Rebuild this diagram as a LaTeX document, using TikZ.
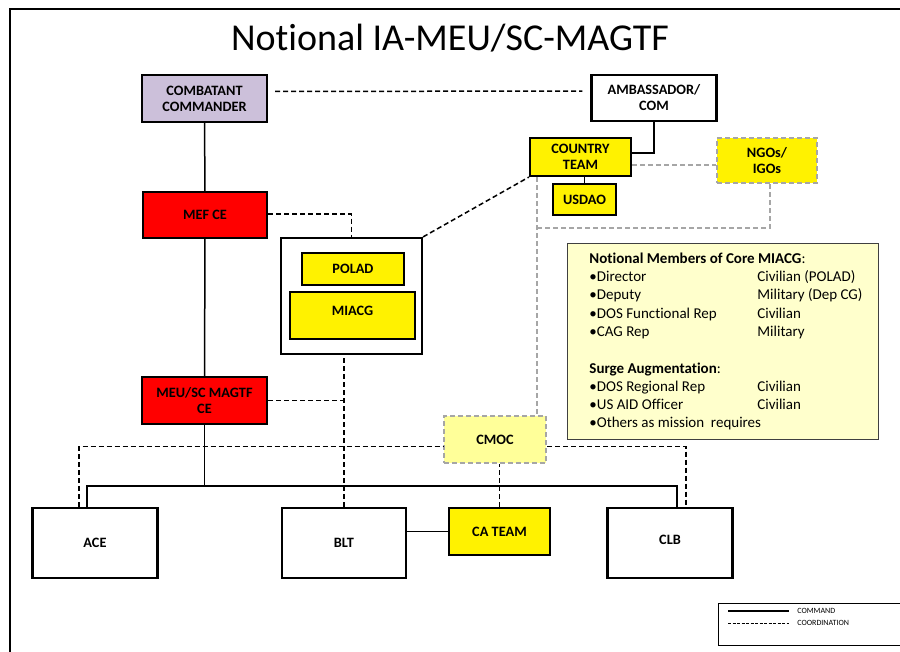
\documentclass[tikz,border=0pt]{standalone}
\usepackage{fontspec}
\setmainfont{Carlito}[Ligatures=NoCommon]
\definecolor{cocomfill}{HTML}{CCC0DA}
\definecolor{cmocfill}{HTML}{FFFF99}
\definecolor{notefill}{HTML}{FFFFCC}
\definecolor{ngoline}{HTML}{A6A6A6}

\begin{document}
\begin{tikzpicture}[x=1pt, y=-1pt, thick,
    unit/.style={draw, line width=2.2pt, inner sep=0pt, align=center, font=\fontsize{14.3}{16}\selectfont\bfseries},
    outside/.style={unit, draw=ngoline, dash pattern=on 5pt off 3pt},
    cmdline/.style={line width=1.5pt},
    coordline/.style={line width=1.5pt, dash pattern=on 5pt off 3pt},
    graycoord/.style={line width=1.5pt, draw=ngoline, dash pattern=on 5pt off 3pt}]
		\useasboundingbox (0,0) rectangle (900,652);
		\draw[line width=2pt] (10,660) -- (10,9) -- (910,9);
		\node[font=\fontsize{38}{40}\selectfont] (title) at (450,38) {Notional IA-MEU/SC-MAGTF};
		
		\node[unit, fill=cocomfill, minimum width=125, minimum height=47] (cocom) at (204.5,98.5) {COMBATANT\\COMMANDER};
		\node[unit, fill=white, minimum width=125, minimum height=46] (amb) at (654,98) {AMBASSADOR/\\COM};
		\node[unit, fill=yellow, minimum width=101, minimum height=38] (ct) at (580.5,157) {COUNTRY\\TEAM};
		\node[unit, fill=yellow, minimum width=63, minimum height=31] (usdao) at (584.5,199.5) {USDAO};
		\node[outside, fill=yellow, minimum width=100, minimum height=45] (ngo) at (767,160.5) {NGOs/\\IGOs};
		\node[unit, fill=red, minimum width=124, minimum height=46] (mef) at (205,215) {MEF CE};
		\node[unit, fill=white, minimum width=141, minimum height=116] (cell) at (351.5,296) {};
		\node[unit, fill=yellow, minimum width=102, minimum height=32] (polad) at (353,269) {POLAD};
		\node[unit, fill=yellow, minimum width=125, minimum height=47, text depth=10pt] (miacg) at (352.5,315.5) {MIACG};
		\node[unit, fill=red, minimum width=125, minimum height=47] (meu) at (204.5,400.5) {MEU/SC MAGTF\\CE};
		\node[outside, fill=cmocfill, minimum width=102, minimum height=47] (cmoc) at (495,439.5) {CMOC};
		\node[unit, fill=yellow, minimum width=101, minimum height=47] (cat) at (499.5,531.5) {CA TEAM};
		\node[unit, fill=white, minimum width=125, minimum height=70] (ace) at (95,543) {ACE};
		\node[unit, fill=white, minimum width=124, minimum height=70] (blt) at (344,543) {BLT};
		\node[unit, fill=white, minimum width=125, minimum height=70, text depth=6pt] (clb) at (670,543) {CLB};
		
		% notional members
		\draw[draw=black!75, fill=notefill, line width=1pt] (567,244) rectangle (878,439);
		\node[anchor=north west, inner sep=0pt, font=\fontsize{15}{18.3}\selectfont] (members) at (589,250) {%
			\begin{tabular}{@{}p{168pt}@{}l@{}}
			\multicolumn{2}{@{}l@{}}{\textbf{Notional Members of Core MIACG}:}\\
			•Director & Civilian (POLAD)\\
			•Deputy & Military (Dep CG)\\
			•DOS Functional Rep & Civilian\\
			•CAG Rep & Military\\
			& \\
			\multicolumn{2}{@{}l@{}}{\textbf{Surge Augmentation}:}\\
			•DOS Regional Rep & Civilian\\
			•US AID Officer & Civilian\\
			\multicolumn{2}{@{}l@{}}{•Others as mission\ \ requires}
			\end{tabular}};
		
		% command
		\coordinate (bus) at (400,486);
		\draw[cmdline] (cocom) -- (mef);
		\draw[cmdline] (mef) -- (meu);
		\draw[cmdline] (amb.south) |- ([yshift=4pt]ct.east);
		\draw[cmdline] (usdao.north) -- (usdao.north |- ct.south);
		\draw[cmdline] (meu.south) -- (meu.south |- bus);
		\draw[cmdline] ([xshift=-8pt]ace.north) |- (bus) -| ([xshift=7pt]clb.north);
		\draw[cmdline] (cat.west) -- (cat.west -| blt.east);
		
		% coordination
		\draw[coordline, shorten <=7pt, shorten >=8pt] ([yshift=7pt]cocom.east) -- ([yshift=7pt]amb.west);
		\draw[coordline] ([yshift=1pt]mef.east) -| (cell.north);
		\draw[coordline] (cell.north east) -- (ct.south west);
		\draw[coordline] (blt.north) -- (blt.north |- cell.south);
		\draw[coordline] (meu.east) -- (meu.east -| blt.north);
		\draw[coordline] ([xshift=-16pt]ace.north) |- ([yshift=-7pt]cmoc.west);
		\draw[coordline] ([yshift=-7pt]cmoc.east) -| ([xshift=16pt]clb.north);
		\draw[coordline] (cat.north) -- (cat.north |- cmoc.south);
		
		% outside agencies
		\coordinate (ctcm) at ([xshift=8pt]ct.south west);
		\coordinate (gturn) at (538,228);
		\draw[graycoord] ([yshift=-8pt]ct.east) -- ([yshift=-8pt]ct.east -| ngo.west);
		\draw[graycoord] ([xshift=3pt]ngo.south) |- (gturn);
		\draw[graycoord] (ctcm) -- (ctcm |- cmoc.north);
		
		% legend
		\draw[line width=1pt] (718,603) rectangle (910,645);
		\coordinate (cmdA) at (728,611);
		\coordinate (cmdB) at (789,611);
		\coordinate (crdA) at (728,623);
		\coordinate (crdB) at (789,623);
		\draw[line width=1.5pt] (cmdA) -- (cmdB);
		\draw[line width=0.8pt, dash pattern=on 3pt off 1.5pt] (crdA) -- (crdB);
		\node[anchor=west, inner sep=0pt, font=\fontsize{8}{9}\selectfont] (cmdtxt) at (797,611) {COMMAND};
		\node[anchor=west, inner sep=0pt, font=\fontsize{8}{9}\selectfont] (crdtxt) at (797,623) {COORDINATION};
	\end{tikzpicture}
\end{document}
